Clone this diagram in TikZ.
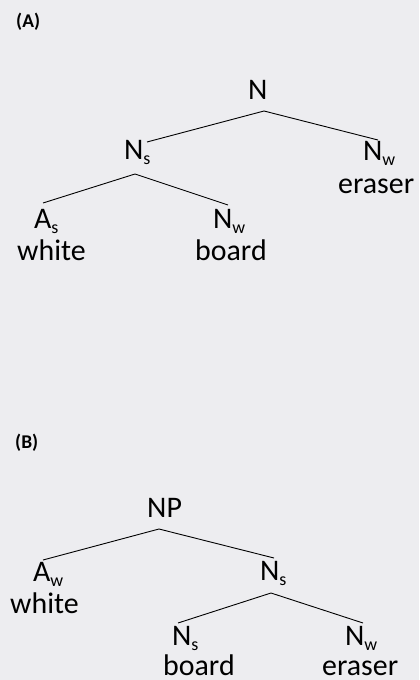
\documentclass[tikz,border=0pt]{standalone}
\usepackage{fontspec}
\setmainfont{Carlito}
\definecolor{bg}{RGB}{237,237,240}
\newcommand{\lowsub}[1]{\raisebox{-5bp}{\fontsize{18}{18}\selectfont #1}}
\begin{document}
\begin{tikzpicture}[x=1bp,y=-1bp,
  lbl/.style={anchor=base west,inner sep=0pt,font=\fontsize{30}{30}\selectfont},
  tag/.style={anchor=base west,inner sep=0pt,font=\fontsize{19.5}{20}\selectfont\bfseries},
  branch/.style={draw=black,line width=0.9pt}]
\fill[bg] (0,0) rectangle (419,680);
\useasboundingbox (0,0) rectangle (419,680);
% ---------- (A)
\node[tag] (tA) at (16,28) {(A)};
\node[lbl] (aN) at (248,100) {N};
\coordinate (aNt) at (264,111);
\coordinate (aNsT) at (147,142);
\coordinate (aNwT) at (378,140);
\node[lbl] (aNs) at (124,159) {N\lowsub{s}};
\node[lbl] (aNw) at (363,160) {N\lowsub{w}};
\node[lbl] (aEr) at (338,193) {eraser};
\coordinate (aNsB) at (135,174);
\coordinate (aAsT) at (43,203);
\coordinate (aNw2T) at (228,205);
\node[lbl] (aAs) at (34,228) {A\lowsub{s}};
\node[lbl] (aWh) at (17,260) {white};
\node[lbl] (aNw2) at (213,228) {N\lowsub{w}};
\node[lbl] (aBo) at (195,260) {board};
\draw[branch] (aNsT) -- (aNt) -- (aNwT);
\draw[branch] (aAsT) -- (aNsB) -- (aNw2T);
% ---------- (B)
\node[tag] (tB) at (15,448) {(B)};
\node[lbl] (bNP) at (147,517) {NP};
\coordinate (bNPt) at (159,529);
\coordinate (bAwT) at (43,560);
\coordinate (bNsT) at (274,558);
\node[lbl] (bAw) at (33,581) {A\lowsub{w}};
\node[lbl] (bWh) at (10,613) {white};
\node[lbl] (bNs) at (260,580) {N\lowsub{s}};
\coordinate (bNsB) at (271,593);
\coordinate (bNs2T) at (178,623);
\coordinate (bNwT) at (363,623);
\node[lbl] (bNs2) at (172,645) {N\lowsub{s}};
\node[lbl] (bBo) at (163,675) {board};
\node[lbl] (bNw) at (345,645) {N\lowsub{w}};
\node[lbl] (bEr) at (322,675) {eraser};
\draw[branch] (bAwT) -- (bNPt) -- (bNsT);
\draw[branch] (bNs2T) -- (bNsB) -- (bNwT);
\end{tikzpicture}
\end{document}
